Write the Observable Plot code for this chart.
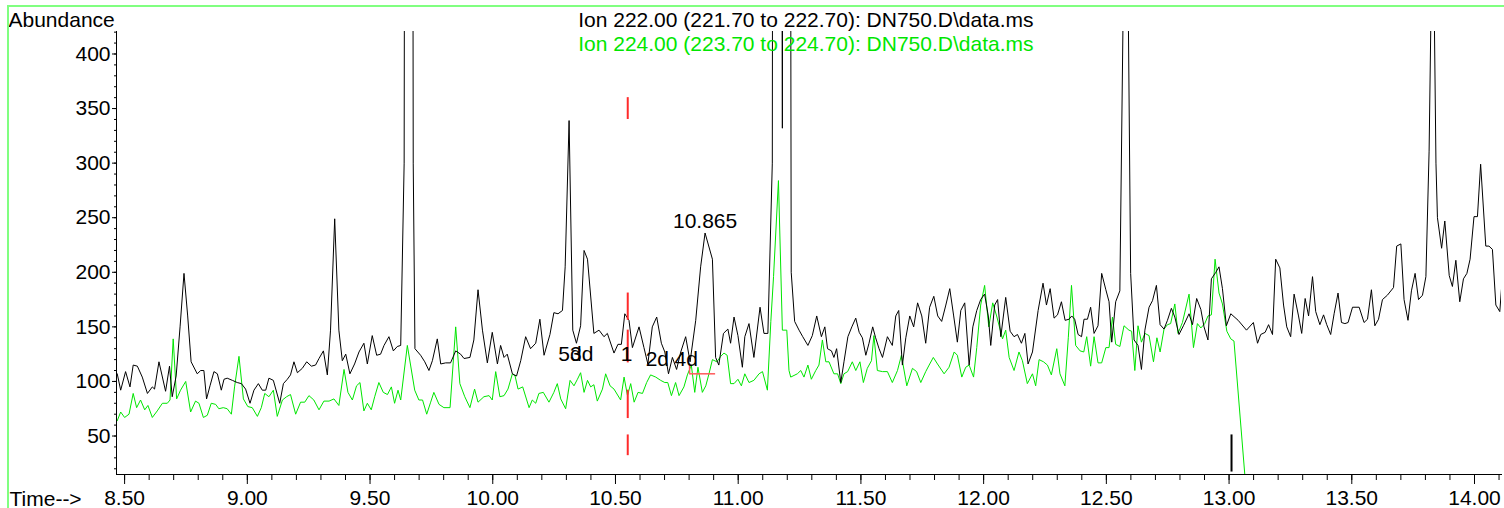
<!DOCTYPE html>
<html><head><meta charset="utf-8">
<script src="https://cdn.jsdelivr.net/npm/d3@7"></script>
<script src="https://cdn.jsdelivr.net/npm/@observablehq/plot@0.6"></script>
<style>
html,body{margin:0;padding:0;background:#fff;}
#wrap{position:relative;width:1504px;height:508px;overflow:hidden;}
#border{position:absolute;left:7px;top:5px;width:1600px;height:700px;border-left:2px solid #80ff80;border-top:2px solid #80ff80;pointer-events:none;}
</style>
</head><body>
<div id="wrap"><div id="border"></div></div>
<script>
// Ion 222.00 trace (time in min, abundance)
const ion222 = [
[8.470,107],[8.484,92],[8.504,109],[8.522,95],[8.535,115],[8.552,114],[8.572,104],[8.593,89],[8.613,95],[8.622,93],
[8.640,118],[8.667,91],[8.683,114],[8.694,86],[8.710,105],[8.726,150],[8.742,199],[8.757,160],[8.771,118],[8.796,107],
[8.810,110],[8.823,110],[8.834,84],[8.848,96],[8.864,109],[8.878,107],[8.894,92],[8.905,102],[8.918,103],[8.939,101],
[8.959,99],[8.976,98],[8.993,93],[9.011,80],[9.027,92],[9.045,98],[9.061,92],[9.075,92],[9.088,103],[9.106,101],
[9.132,80],[9.147,98],[9.163,102],[9.176,106],[9.190,118],[9.204,108],[9.224,112],[9.242,118],[9.261,114],[9.278,115],
[9.292,121],[9.310,128],[9.326,106],[9.339,147],[9.356,249],[9.373,147],[9.387,119],[9.401,125],[9.418,107],[9.437,116],
[9.455,127],[9.475,135],[9.489,116],[9.509,142],[9.527,124],[9.543,125],[9.557,133],[9.577,141],[9.595,128],[9.611,132],
[9.625,133],[9.639,300],[9.653,2500],[9.663,2500],[9.676,300],[9.683,130],[9.706,124],[9.723,118],[9.740,110],[9.754,119],
[9.774,139],[9.788,116],[9.808,117],[9.828,117],[9.849,128],[9.869,125],[9.883,121],[9.907,122],[9.923,138],[9.940,184],
[9.958,147],[9.978,117],[9.998,145],[10.019,116],[10.032,133],[10.046,122],[10.059,125],[10.080,107],[10.097,105],[10.114,119],
[10.134,141],[10.154,130],[10.175,135],[10.192,157],[10.209,124],[10.233,143],[10.249,163],[10.266,162],[10.284,165],[10.295,205],
[10.311,339],[10.326,147],[10.341,135],[10.358,151],[10.372,220],[10.386,212],[10.412,144],[10.433,147],[10.453,141],[10.467,144],
[10.494,126],[10.510,134],[10.524,134],[10.538,162],[10.555,156],[10.569,131],[10.596,150],[10.616,131],[10.632,116],[10.650,150],
[10.668,159],[10.687,135],[10.701,127],[10.716,107],[10.732,122],[10.749,111],[10.766,127],[10.786,141],[10.804,118],[10.827,156],
[10.847,205],[10.865,236],[10.895,212],[10.908,122],[10.921,115],[10.940,144],[10.958,148],[10.969,135],[10.983,159],[10.999,142],
[11.017,113],[11.027,141],[11.044,153],[11.064,122],[11.089,168],[11.105,144],[11.121,144],[11.139,300],[11.151,3000],[11.180,332],
[11.196,3000],[11.216,200],[11.230,155],[11.248,147],[11.263,141],[11.284,133],[11.302,142],[11.320,160],[11.339,141],[11.353,150],
[11.364,130],[11.380,128],[11.390,122],[11.401,130],[11.418,99],[11.431,118],[11.447,141],[11.463,150],[11.479,158],[11.493,145],
[11.506,140],[11.520,124],[11.533,135],[11.548,150],[11.560,140],[11.574,130],[11.588,122],[11.608,141],[11.628,133],[11.642,160],
[11.654,165],[11.669,115],[11.683,140],[11.699,160],[11.715,150],[11.731,172],[11.748,160],[11.764,135],[11.780,168],[11.797,178],
[11.813,160],[11.829,155],[11.846,170],[11.862,185],[11.878,160],[11.893,136],[11.907,165],[11.923,172],[11.941,115],[11.956,150],
[11.972,165],[11.988,175],[12.004,180],[12.019,160],[12.029,133],[12.045,170],[12.057,175],[12.070,141],[12.090,177],[12.108,146],
[12.124,141],[12.138,143],[12.154,135],[12.168,144],[12.181,116],[12.199,127],[12.222,165],[12.242,190],[12.256,170],[12.271,185],
[12.287,158],[12.301,161],[12.317,173],[12.332,156],[12.348,157],[12.359,160],[12.371,157],[12.385,143],[12.399,141],[12.409,157],
[12.423,157],[12.436,168],[12.450,144],[12.466,151],[12.481,199],[12.498,184],[12.511,173],[12.522,136],[12.538,173],[12.555,183],
[12.569,450],[12.583,600],[12.599,199],[12.613,138],[12.629,133],[12.643,111],[12.657,147],[12.674,168],[12.688,174],[12.704,188],
[12.719,152],[12.735,148],[12.749,156],[12.765,167],[12.779,159],[12.796,143],[12.814,151],[12.837,162],[12.851,152],[12.868,176],
[12.885,166],[12.898,150],[12.914,138],[12.928,194],[12.946,200],[12.959,205],[12.973,185],[12.989,151],[13.007,162],[13.037,156],
[13.071,147],[13.099,154],[13.116,135],[13.129,143],[13.147,145],[13.161,152],[13.177,143],[13.190,212],[13.207,204],[13.222,170],
[13.235,150],[13.251,141],[13.265,180],[13.283,160],[13.296,144],[13.310,176],[13.324,160],[13.340,196],[13.353,164],[13.370,152],
[13.385,161],[13.398,152],[13.414,143],[13.428,162],[13.444,181],[13.458,154],[13.472,153],[13.485,154],[13.503,168],[13.530,168],
[13.550,154],[13.564,157],[13.580,184],[13.594,151],[13.609,157],[13.625,175],[13.645,179],[13.670,186],[13.683,224],[13.700,226],
[13.713,175],[13.729,156],[13.743,183],[13.758,199],[13.772,175],[13.788,179],[13.802,196],[13.815,311],[13.830,560],[13.843,300],
[13.849,250],[13.866,222],[13.879,247],[13.897,197],[13.910,187],[13.924,211],[13.940,173],[13.955,194],[13.969,199],[13.982,212],
[13.998,251],[14.012,251],[14.025,299],[14.046,224],[14.059,224],[14.073,221],[14.087,170],[14.103,164],[14.115,200]
];
// Ion 224.00 trace
const ion224 = [
[8.470,64],[8.484,72],[8.500,67],[8.518,70],[8.535,89],[8.549,76],[8.565,83],[8.582,74],[8.595,78],[8.613,67],
[8.633,73],[8.654,80],[8.674,80],[8.685,83],[8.698,139],[8.712,84],[8.728,92],[8.749,100],[8.769,72],[8.789,82],
[8.803,80],[8.821,67],[8.837,69],[8.853,80],[8.871,79],[8.884,75],[8.902,76],[8.918,75],[8.935,70],[8.948,95],
[8.966,123],[8.984,84],[9.002,77],[9.020,76],[9.041,68],[9.057,76],[9.071,89],[9.088,86],[9.106,92],[9.122,68],
[9.143,83],[9.160,86],[9.176,88],[9.197,70],[9.217,81],[9.234,81],[9.251,87],[9.271,83],[9.292,74],[9.312,82],
[9.333,82],[9.353,84],[9.373,78],[9.394,111],[9.410,90],[9.428,83],[9.445,96],[9.459,99],[9.475,73],[9.489,80],
[9.505,74],[9.519,86],[9.536,99],[9.554,90],[9.571,88],[9.587,95],[9.600,80],[9.614,92],[9.625,83],[9.652,133],
[9.682,92],[9.699,83],[9.714,83],[9.731,70],[9.747,81],[9.760,90],[9.781,79],[9.801,76],[9.826,76],[9.849,150],
[9.866,98],[9.886,86],[9.907,76],[9.926,93],[9.940,81],[9.964,86],[9.985,87],[9.998,83],[10.012,109],[10.029,86],
[10.046,87],[10.062,93],[10.080,107],[10.091,105],[10.103,93],[10.122,95],[10.148,76],[10.161,83],[10.175,80],[10.188,89],
[10.206,90],[10.229,81],[10.249,90],[10.263,98],[10.277,84],[10.297,75],[10.315,101],[10.331,96],[10.345,102],[10.358,108],
[10.372,90],[10.386,101],[10.399,95],[10.412,97],[10.426,82],[10.447,93],[10.460,107],[10.478,96],[10.494,93],[10.521,83],
[10.535,104],[10.549,87],[10.562,98],[10.576,81],[10.592,90],[10.610,89],[10.627,99],[10.643,106],[10.664,104],[10.684,101],
[10.701,99],[10.713,99],[10.728,87],[10.745,99],[10.759,87],[10.779,95],[10.793,106],[10.809,115],[10.823,90],[10.836,113],
[10.854,90],[10.868,96],[10.881,107],[10.895,120],[10.913,118],[10.929,123],[10.942,126],[10.955,124],[10.969,98],[10.983,98],
[10.999,102],[11.013,96],[11.027,107],[11.044,99],[11.064,101],[11.085,107],[11.099,109],[11.119,92],[11.133,155],[11.144,196],
[11.164,284],[11.180,147],[11.198,147],[11.207,110],[11.214,104],[11.241,107],[11.255,110],[11.268,104],[11.284,115],[11.298,102],
[11.316,110],[11.329,115],[11.343,138],[11.357,118],[11.370,118],[11.390,107],[11.405,107],[11.418,98],[11.431,107],[11.446,109],
[11.465,118],[11.479,110],[11.496,118],[11.510,99],[11.526,112],[11.543,119],[11.553,142],[11.567,110],[11.588,109],[11.608,109],
[11.628,99],[11.649,110],[11.665,124],[11.687,96],[11.710,112],[11.727,109],[11.744,99],[11.764,109],[11.778,115],[11.795,122],
[11.812,116],[11.839,107],[11.859,113],[11.880,127],[11.893,124],[11.911,104],[11.927,113],[11.941,115],[11.959,104],[11.972,131],
[11.988,170],[12.004,188],[12.021,150],[12.037,172],[12.053,160],[12.077,139],[12.090,147],[12.104,122],[12.124,110],[12.144,127],
[12.158,119],[12.178,98],[12.199,107],[12.212,96],[12.226,120],[12.244,118],[12.260,115],[12.276,106],[12.298,130],[12.311,107],
[12.331,96],[12.345,140],[12.358,188],[12.375,133],[12.393,128],[12.408,127],[12.420,141],[12.436,114],[12.450,141],[12.466,117],
[12.481,117],[12.498,131],[12.511,131],[12.525,159],[12.538,134],[12.555,132],[12.572,151],[12.592,147],[12.603,146],[12.616,110],
[12.629,151],[12.643,136],[12.657,144],[12.674,142],[12.692,118],[12.706,140],[12.719,127],[12.735,148],[12.749,152],[12.762,153],
[12.779,171],[12.792,144],[12.810,154],[12.837,180],[12.855,131],[12.871,153],[12.885,149],[12.901,153],[12.914,160],[12.928,161],
[12.943,212],[12.959,181],[12.973,171],[12.991,146],[13.007,139],[13.020,137],[13.064,15],[13.069,0]
];
// peak annotation labels
const peakLabels = ["5d", "3d", "1", "2d", "4d"];
const peakLabelTime = [10.267, 10.315, 10.521, 10.623, 10.741];
const peakLabelAbund = [118.3, 118.3, 118.3, 113.7, 113.7];
const rtLabel = ["10.865"];
const rtLabelTime = [10.865];
const rtLabelAbund = [241];
// red expected-RT dashes (time, from, to)
const redDashTime = 10.55;
const redDashFrom = [340, 156, 117, 66, 32];
const redDashTo = [360, 181, 147, 92, 51];
// red baseline bracket
const bracketTime = [10.802, 10.908];
const bracketAbund = [116, 107];
// black marker at 13.01
const markTime = [13.010];
const markFrom = [17];
const markTo = [51];
// axis ticks
const xMajor = [8.5, 9.0, 9.5, 10.0, 10.5, 11.0, 11.5, 12.0, 12.5, 13.0, 13.5, 14.0];
const xMinor = [8.5,8.6,8.7,8.8,8.9,9.0,9.1,9.2,9.3,9.4,9.5,9.6,9.7,9.8,9.9,10.0,10.1,10.2,10.3,10.4,10.5,10.6,10.7,10.8,10.9,11.0,
  11.1,11.2,11.3,11.4,11.5,11.6,11.7,11.8,11.9,12.0,12.1,12.2,12.3,12.4,12.5,12.6,12.7,12.8,12.9,13.0,13.1,13.2,13.3,13.4,13.5,13.6,13.7,13.8,13.9,14.0,14.1];
const yMajor = [50, 100, 150, 200, 250, 300, 350, 400];
const yMinor = [20,30,40,50,60,70,80,90,100,110,120,130,140,150,160,170,180,190,200,210,220,230,240,250,260,270,280,290,300,310,320,330,340,350,360,370,380,390,400,410,420];
const legend222 = "Ion 222.00 (221.70 to 222.70): DN750.D\\data.ms";
const legend224 = "Ion 224.00 (223.70 to 224.70): DN750.D\\data.ms";
const yTitle = "Abundance";
const xTitle = "Time-->";

const dashes = redDashFrom.map((f, i) => ({t: redDashTime, a: f, b: redDashTo[i]}));
const bracketV = [{t: bracketTime[0], a: bracketAbund[1], b: bracketAbund[0]}];
const bracketH = [{a: bracketTime[0], b: bracketTime[1], v: bracketAbund[1]}];
const marks = markTime.map((t, i) => ({t, a: markFrom[i], b: markTo[i]}));
const peakRows = peakLabels.map((s, i) => ({s, t: peakLabelTime[i], v: peakLabelAbund[i]}));
const rtRows = rtLabel.map((s, i) => ({s, t: rtLabelTime[i], v: rtLabelAbund[i]}));

const chart = Plot.plot({
  width: 1504, height: 508,
  marginLeft: 116, marginRight: 3, marginTop: 31, marginBottom: 34,
  x: {domain: [8.467, 14.11], label: null},
  y: {domain: [14.75, 420.6], label: null},
  style: {fontFamily: "'Liberation Sans', Arial, sans-serif", fontSize: "21px", color: "#000", background: "transparent"},
  marks: [
    Plot.line(ion224, {x: d => d[0], y: d => d[1], stroke: "#00e600", strokeWidth: 1, clip: true}),
    Plot.line(ion222, {x: d => d[0], y: d => d[1], stroke: "#000", strokeWidth: 1, clip: true}),
    Plot.ruleX(dashes, {x: "t", y1: "a", y2: "b", stroke: "#ff2a2a", strokeWidth: 2}),
    Plot.ruleX(bracketV, {x: "t", y1: "a", y2: "b", stroke: "#ff5a5a", strokeWidth: 1.5}),
    Plot.ruleY(bracketH, {y: "v", x1: "a", x2: "b", stroke: "#ff5a5a", strokeWidth: 1.5}),
    Plot.ruleX(marks, {x: "t", y1: "a", y2: "b", stroke: "#000", strokeWidth: 2}),
    Plot.text(peakRows, {x: "t", y: "v", text: "s", textAnchor: "start", lineAnchor: "bottom", fontSize: 21, fill: "#000"}),
    Plot.text(rtRows, {x: "t", y: "v", text: "s", textAnchor: "middle", lineAnchor: "bottom", fontSize: 21, fill: "#000"}),
    Plot.frame({anchor: "left", stroke: "#000"}),
    Plot.frame({anchor: "bottom", stroke: "#000"}),
    Plot.axisX(xMinor, {tickSize: 6, tickFormat: () => "", label: null}),
    Plot.axisX(xMajor, {tickSize: 10, tickPadding: 6, tickFormat: d => d.toFixed(2), fontSize: 21, label: null}),
    Plot.axisY(yMinor, {tickSize: 2, tickFormat: () => "", label: null}),
    Plot.axisY(yMajor, {tickSize: 4, tickPadding: 2, fontSize: 21, label: null}),
    Plot.text([yTitle], {frameAnchor: "top-left", dx: -108, dy: -5, textAnchor: "start", lineAnchor: "bottom", fontSize: 21, fill: "#000"}),
    Plot.text([xTitle], {frameAnchor: "bottom-left", dx: -107, dy: 31, textAnchor: "start", lineAnchor: "bottom", fontSize: 21, fill: "#000"}),
    Plot.text([legend222], {frameAnchor: "top-left", dx: 461.7, dy: -5, textAnchor: "start", lineAnchor: "bottom", fontSize: 21, fill: "#000"}),
    Plot.text([legend224], {frameAnchor: "top-left", dx: 461.7, dy: 19, textAnchor: "start", lineAnchor: "bottom", fontSize: 21, fill: "#00e600"})
  ]
});
document.getElementById("wrap").prepend(chart);
</script>
</body></html>
